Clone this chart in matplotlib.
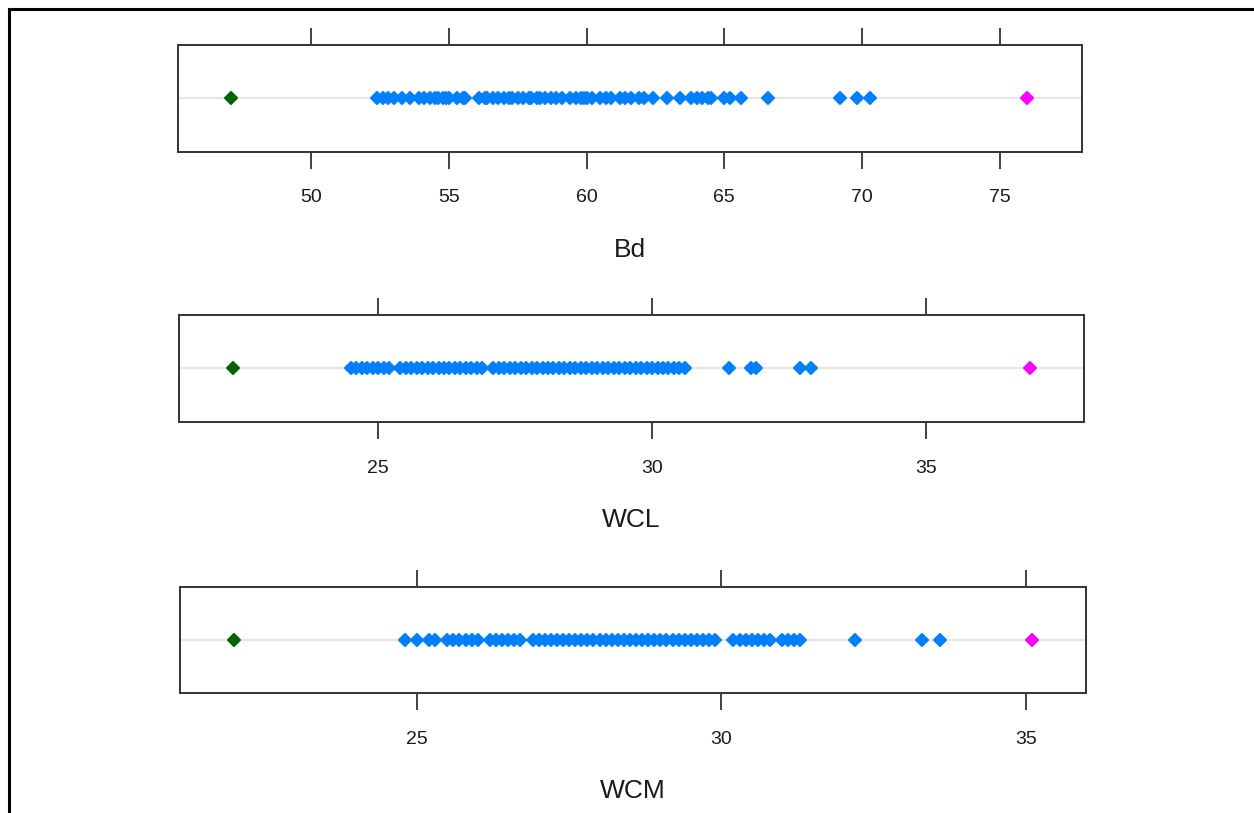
import matplotlib.pyplot as plt
from matplotlib.lines import Line2D
from matplotlib.markers import MarkerStyle

plt.rcParams['font.family'] = ['Liberation Sans', 'DejaVu Sans']

# ---------------------------
# Data
# ---------------------------
bd_low, bd_high = 47.1, 76.0
bd_values = [
    52.4, 52.6, 52.8, 53.0, 53.3, 53.6, 53.9, 54.1, 54.3, 54.5, 54.6, 54.8,
    54.9, 55.0, 55.3, 55.5, 55.6,
    56.1, 56.3, 56.4, 56.6, 56.8, 57.0, 57.2, 57.3, 57.5, 57.7, 57.9, 58.0,
    58.2, 58.3, 58.5, 58.7, 58.9, 59.1, 59.4, 59.6, 59.8, 59.9, 60.0, 60.2,
    60.5, 60.7, 60.9, 61.2, 61.4, 61.6, 61.9, 62.1, 62.4, 62.9, 63.4, 63.8,
    64.0, 64.2, 64.4, 64.5, 65.0, 65.2, 65.6, 66.6, 69.2, 69.8, 70.3,
]

wcl_low, wcl_high = 22.35, 36.9
wcl_values = [
    24.5, 24.6, 24.7, 24.8, 24.9, 25.0, 25.1, 25.2, 25.4, 25.5, 25.6, 25.7,
    25.8, 25.9, 26.0, 26.1, 26.2, 26.3, 26.4, 26.5, 26.6, 26.7, 26.8, 26.9,
    27.1, 27.2, 27.3, 27.4, 27.5, 27.6, 27.7, 27.8, 27.9, 28.0, 28.1, 28.2,
    28.3, 28.4, 28.5, 28.6, 28.7, 28.8, 28.9, 29.0, 29.1, 29.2, 29.3, 29.4,
    29.5, 29.6, 29.7, 29.8, 29.9, 30.0, 30.1, 30.2, 30.3, 30.4, 30.5, 30.6,
    31.4, 31.8, 31.9, 32.7, 32.9,
]

wcm_low, wcm_high = 22.0, 35.1
wcm_values = [
    24.8, 25.0, 25.2, 25.3, 25.5, 25.6, 25.7, 25.8, 25.9, 26.0, 26.2, 26.3,
    26.4, 26.5, 26.6, 26.7, 26.9, 27.0, 27.1, 27.2, 27.3, 27.4, 27.5, 27.6,
    27.7, 27.8, 27.9, 28.0, 28.1, 28.2, 28.3, 28.4, 28.5, 28.6, 28.7, 28.8,
    28.9, 29.0, 29.1, 29.2, 29.3, 29.4, 29.5, 29.6, 29.7, 29.8, 29.9, 30.2,
    30.3, 30.4, 30.5, 30.6, 30.7, 30.8, 31.0, 31.1, 31.2, 31.3, 32.2, 33.3,
    33.6,
]

panels = [
    ("Bd", bd_values, bd_low, bd_high, [50, 55, 60, 65, 70, 75], (45.17, 77.98)),
    ("WCL", wcl_values, wcl_low, wcl_high, [25, 30, 35], (21.36, 37.89)),
    ("WCM", wcm_values, wcm_low, wcm_high, [25, 30, 35], (21.11, 35.99)),
]

# axes boxes in pixels: left, top, right, bottom
boxes = [
    (178, 45, 1082, 152),
    (179, 315, 1084, 422),
    (180, 587, 1086, 693),
]

W, H = 1254, 813
fig = plt.figure(figsize=(W / 100, H / 100), dpi=100)

edge = "#333333"
diamond = MarkerStyle("D", joinstyle="round")
for (name, vals, lo, hi, ticks, xlim), (l, t, r, b) in zip(panels, boxes):
    ax = fig.add_axes([l / W, 1 - b / H, (r - l) / W, (b - t) / H])
    ax.axhline(1, color="#e6e6e6", lw=1.6, zorder=1)
    for xs, c in [(vals, "#0080ff"), ([lo], "#006400"), ([hi], "#ff00ff")]:
        ax.plot(xs, [1] * len(xs), linestyle="none", marker=diamond,
                color=c, ms=6.6, mew=1.5, mec=c, zorder=3)
    ax.set_xlim(*xlim)
    ax.set_ylim(0, 2)
    ax.set_yticks([])
    ax.set_xticks(ticks)
    ax.tick_params(axis="x", top=True, bottom=True, direction="out",
                   length=12, width=1.3, color=edge, labelsize=14,
                   labelcolor="#1a1a1a", pad=15)
    for s in ax.spines.values():
        s.set_color(edge)
        s.set_linewidth(1.4)
    ax.set_xlabel(name, fontsize=19, color="#1a1a1a", labelpad=23)

# screenshot frame lines (left and top)
fig.add_artist(Line2D([9 / W, 9 / W], [0, 1 - 9 / H], color="black", lw=2.2))
fig.add_artist(Line2D([9 / W, 1], [1 - 9 / H, 1 - 9 / H], color="black", lw=2.2))

fig.savefig("out.png", dpi=100)
